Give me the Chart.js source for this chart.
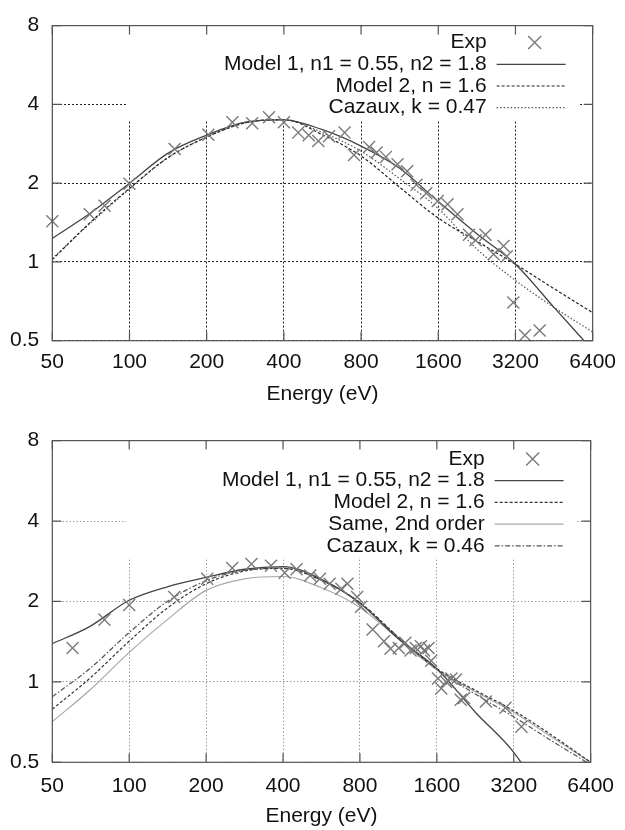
<!DOCTYPE html>
<html>
<head>
<meta charset="utf-8">
<script src="https://cdn.jsdelivr.net/npm/chart.js@4.4.0/dist/chart.umd.min.js"></script>
<style>
  body { margin: 0; background: #fff; }
  canvas { display: block; }
</style>
</head>
<body>
<canvas id="upper" width="625" height="415"></canvas>
<canvas id="lower" width="625" height="415"></canvas>
<script>
const FONT = '"Liberation Sans", Arial, Helvetica, sans-serif';

const energyTicks = [50, 100, 200, 400, 800, 1600, 3200, 6400];
const yieldTicks = [0.5, 1, 2, 4, 8];
const curveEnergy = [50, 70, 100, 141, 200, 283, 400, 566, 800, 1131, 1600, 2263, 3200, 4525, 6400];

// upper panel
const exp1Energy = [50, 70, 80, 100, 150, 203, 252, 301, 350, 400, 455, 500, 545, 600, 690, 751,
  860, 920, 1000, 1110, 1210, 1316, 1437, 1593, 1740, 1901, 2108, 2237, 2445, 2630, 2876, 2960,
  3140, 3483, 3977];
const exp1Yield = [1.43, 1.52, 1.64, 1.99, 2.70, 3.06, 3.42, 3.39, 3.57, 3.42, 3.12, 3.05, 2.90, 3.02, 3.12, 2.56,
  2.75, 2.62, 2.52, 2.36, 2.22, 1.97, 1.83, 1.71, 1.66, 1.52, 1.27, 1.21, 1.27, 1.07, 1.15, 1.05,
  0.70, 0.525, 0.547];
const model1Upper = [1.23, 1.53, 2.0, 2.6, 3.05, 3.42, 3.49, 3.20, 2.77, 2.28, 1.70, 1.28, 0.98, 0.67, 0.46];
const model2Upper = [1.02, 1.41, 1.91, 2.5, 3.0, 3.40, 3.50, 3.06, 2.54, 1.93, 1.47, 1.20, 0.98, 0.79, 0.64];
const cazauxUpper = [1.03, 1.40, 1.90, 2.5, 3.0, 3.40, 3.50, 3.12, 2.65, 2.08, 1.60, 1.12, 0.85, 0.67, 0.54];

// lower panel
const exp2Energy = [60, 80, 100, 150, 202, 253, 301, 359, 406, 452, 511, 558, 609, 677, 715, 780,
  809, 897, 994, 1054, 1135, 1204, 1263, 1323, 1386, 1426, 1485, 1520, 1617, 1666, 1740, 1826,
  1902, 1984, 2046, 2490, 2970, 3430];
const exp2Yield = [1.34, 1.71, 1.94, 2.08, 2.43, 2.67, 2.76, 2.72, 2.56, 2.64, 2.50, 2.43, 2.33, 2.23, 2.33, 2.08,
  1.91, 1.57, 1.42, 1.33, 1.34, 1.40, 1.31, 1.34, 1.36, 1.31, 1.34, 1.20, 1.03, 0.945, 1.0, 1.03,
  1.02, 0.857, 0.87, 0.845, 0.80, 0.68];
const model1Lower = [1.39, 1.61, 2.02, 2.27, 2.46, 2.64, 2.70, 2.42, 1.97, 1.45, 1.12, 0.77, 0.545, 0.33, 0.2];
const model2Lower = [0.79, 1.03, 1.42, 1.89, 2.33, 2.60, 2.66, 2.40, 1.98, 1.47, 1.12, 0.93, 0.78, 0.63, 0.50];
const secondOrder = [0.71, 0.93, 1.29, 1.71, 2.20, 2.43, 2.48, 2.25, 1.90, 1.45, 1.11, 0.92, 0.77, 0.62, 0.50];
const cazauxLower = [0.88, 1.12, 1.53, 2.00, 2.39, 2.62, 2.66, 2.40, 1.98, 1.47, 1.11, 0.90, 0.74, 0.60, 0.49];

const pts = (xs, ys) => xs.map((x, i) => ({x: x, y: ys[i]}));

// gnuplot style key inside the plot, white box hides the grid behind it
const keyPlugin = {
  id: 'key',
  beforeDatasetsDraw(chart, args, opts) {
    const {ctx, chartArea: a} = chart;
    const rows = opts.rows || [];
    ctx.save();
    ctx.fillStyle = '#fff';
    ctx.fillRect(a.left + 74, a.top + 1, a.right - a.left - 88, opts.boxBottom);
    ctx.font = '21px ' + FONT;
    ctx.textAlign = 'right';
    ctx.textBaseline = 'middle';
    rows.forEach((r, i) => {
      const y = a.top + opts.first + i * opts.gap;
      ctx.fillStyle = '#111';
      ctx.fillText(r.label, a.right - 106, y);
      ctx.strokeStyle = r.color;
      ctx.lineWidth = r.width || 1.2;
      ctx.setLineDash(r.dash || []);
      ctx.beginPath();
      if (r.cross) {
        const c = a.right - 58, h = 6.5;
        ctx.moveTo(c - h, y - h); ctx.lineTo(c + h, y + h);
        ctx.moveTo(c - h, y + h); ctx.lineTo(c + h, y - h);
      } else {
        ctx.moveTo(a.right - 96, y);
        ctx.lineTo(a.right - 27, y);
      }
      ctx.stroke();
    });
    ctx.restore();
  }
};

// border box with inward ticks on all four sides
const framePlugin = {
  id: 'frame',
  afterDraw(chart) {
    const {ctx, chartArea: a, scales} = chart;
    ctx.save();
    ctx.strokeStyle = '#555';
    ctx.lineWidth = 1.2;
    ctx.setLineDash([]);
    ctx.strokeRect(a.left, a.top, a.right - a.left, a.bottom - a.top);
    ctx.beginPath();
    energyTicks.forEach(v => {
      const x = scales.x.getPixelForValue(v);
      ctx.moveTo(x, a.bottom); ctx.lineTo(x, a.bottom - 9);
      ctx.moveTo(x, a.top); ctx.lineTo(x, a.top + 9);
    });
    yieldTicks.forEach(v => {
      const y = scales.y.getPixelForValue(v);
      ctx.moveTo(a.left, y); ctx.lineTo(a.left + 9, y);
      ctx.moveTo(a.right, y); ctx.lineTo(a.right - 9, y);
    });
    ctx.stroke();
    ctx.restore();
  }
};

function makeChart(id, cfg) {
  const tickFont = {size: 21, family: FONT};
  return new Chart(document.getElementById(id), {
    type: 'scatter',
    data: {datasets: cfg.datasets},
    options: {
      responsive: false,
      animation: false,
      layout: {padding: {top: cfg.top, right: 25.5, left: 0, bottom: 0}},
      plugins: {
        legend: {display: false},
        tooltip: {enabled: false},
        key: cfg.key
      },
      elements: {line: {cubicInterpolationMode: 'monotone'}},
      scales: {
        x: {
          type: 'logarithmic', min: 50, max: 6400,
          afterBuildTicks: s => { s.ticks = energyTicks.map(v => ({value: v})); },
          afterFit: s => { s.height = cfg.axisH; },
          ticks: {autoSkip: false, maxRotation: 0, padding: cfg.labelPad, color: '#111', font: tickFont,
            callback: v => String(v)},
          grid: {color: cfg.gridColor, lineWidth: 1, drawTicks: false},
          border: {display: false, dash: cfg.gridDash},
          title: {display: true, text: 'Energy (eV)', color: '#111', font: tickFont,
            padding: {top: 0, bottom: cfg.titlePad}}
        },
        y: {
          type: 'logarithmic', min: 0.5, max: 8,
          afterBuildTicks: s => { s.ticks = yieldTicks.map(v => ({value: v})); },
          afterFit: s => { s.width = 52.3; },
          ticks: {padding: 13, color: '#111', font: tickFont, callback: v => String(v)},
          grid: {color: cfg.gridColor, lineWidth: 1, drawTicks: false},
          border: {display: false, dash: cfg.gridDash}
        }
      }
    },
    plugins: [keyPlugin, framePlugin]
  });
}

const crossStyle = {
  showLine: false, pointStyle: 'crossRot', pointRadius: 8.5, pointBorderWidth: 1.4,
  pointBorderColor: '#7a7a7a', borderColor: '#7a7a7a', backgroundColor: '#7a7a7a', clip: false
};
const curve = (data, color, dash, width) => ({
  data: data, showLine: true, pointRadius: 0, borderColor: color, borderDash: dash,
  borderWidth: width, fill: false
});

makeChart('upper', {
  top: 15, axisH: 74.3, labelPad: 9, titlePad: 8,
  gridColor: '#222', gridDash: [2, 2],
  datasets: [
    Object.assign({label: 'Exp', data: pts(exp1Energy, exp1Yield)}, crossStyle),
    Object.assign({label: 'Model 1, n1 = 0.55, n2 = 1.8'}, curve(pts(curveEnergy, model1Upper), '#444', [], 1.3)),
    Object.assign({label: 'Model 2, n = 1.6'}, curve(pts(curveEnergy, model2Upper), '#222', [3, 2], 1.2)),
    Object.assign({label: 'Cazaux, k = 0.47'}, curve(pts(curveEnergy, cazauxUpper), '#555', [1.5, 2], 1.2))
  ],
  key: {
    first: 17, gap: 21.7, boxBottom: 94,
    rows: [
      {label: 'Exp', cross: true, color: '#7a7a7a', width: 1.4},
      {label: 'Model 1, n1 = 0.55, n2 = 1.8', color: '#444', width: 1.3},
      {label: 'Model 2, n = 1.6', color: '#222', dash: [3, 2]},
      {label: 'Cazaux, k = 0.47', color: '#555', dash: [1.5, 2]}
    ]
  }
});

makeChart('lower', {
  top: 18.3, axisH: 67.7, labelPad: 11, titlePad: 1,
  gridColor: '#9a9a9a', gridDash: [1.5, 2],
  datasets: [
    Object.assign({label: 'Exp', data: pts(exp2Energy, exp2Yield)}, crossStyle),
    Object.assign({label: 'Model 1, n1 = 0.55, n2 = 1.8'}, curve(pts(curveEnergy, model1Lower), '#444', [], 1.3)),
    Object.assign({label: 'Model 2, n = 1.6'}, curve(pts(curveEnergy, model2Lower), '#333', [3, 2], 1.2)),
    Object.assign({label: 'Same, 2nd order'}, curve(pts(curveEnergy, secondOrder), '#a8a8a8', [], 1.2)),
    Object.assign({label: 'Cazaux, k = 0.46'}, curve(pts(curveEnergy, cazauxLower), '#555', [5, 2, 1.5, 2], 1.2))
  ],
  key: {
    first: 18.4, gap: 21.7, boxBottom: 116,
    rows: [
      {label: 'Exp', cross: true, color: '#7a7a7a', width: 1.4},
      {label: 'Model 1, n1 = 0.55, n2 = 1.8', color: '#444', width: 1.3},
      {label: 'Model 2, n = 1.6', color: '#333', dash: [3, 2]},
      {label: 'Same, 2nd order', color: '#a8a8a8'},
      {label: 'Cazaux, k = 0.46', color: '#555', dash: [5, 2, 1.5, 2]}
    ]
  }
});
</script>
</body>
</html>
